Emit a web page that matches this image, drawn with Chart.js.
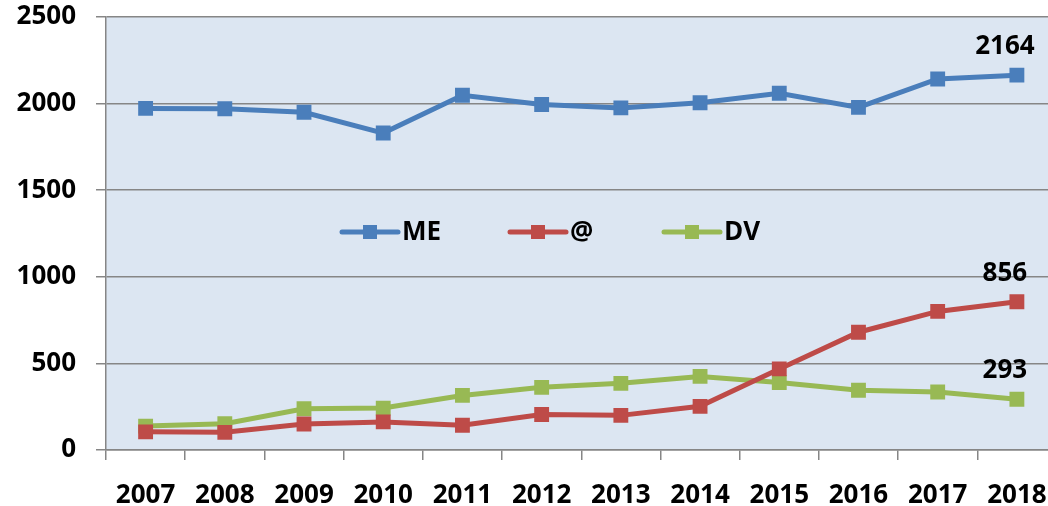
<!DOCTYPE html>
<html>
<head>
<meta charset="utf-8">
<script src="https://cdn.jsdelivr.net/npm/chart.js@4/dist/chart.umd.min.js"></script>
<style>
  html, body { margin: 0; padding: 0; background: #fff; overflow: hidden; }
  #wrap { width: 1067px; height: 506px; position: relative; }
</style>
</head>
<body>
<div id="wrap"><canvas id="trendChart"></canvas></div>
<script>
const years = ['2007', '2008', '2009', '2010', '2011', '2012', '2013', '2014', '2015', '2016', '2017', '2018'];
const meValues = [1972, 1970, 1950, 1830, 2048, 1995, 1975, 2005, 2060, 1978, 2142, 2164];
const atValues = [105, 102, 150, 162, 143, 205, 200, 252, 468, 680, 800, 856];
const dvValues = [138, 152, 238, 242, 315, 362, 385, 425, 390, 345, 335, 293];
const seriesNames = ['ME', '@', 'DV'];
const seriesColors = ['#4a7ebb', '#be4b48', '#98b954'];
const yTicks = [0, 500, 1000, 1500, 2000, 2500];

const fontFamily = "'Open Sans', Lato, sans-serif";

// light blue plot background
const plotBackground = {
  id: 'plotBackground',
  beforeDraw(chart) {
    const { ctx, chartArea: a } = chart;
    ctx.save();
    ctx.fillStyle = '#dce6f2';
    ctx.fillRect(a.left, a.top, a.right - a.left, a.bottom - a.top);
    ctx.restore();
  }
};

// legend inside the plot + labels on the last points
const extras = {
  id: 'extras',
  afterDatasetsDraw(chart) {
    const { ctx, chartArea: a } = chart;
    ctx.save();
    const legendY = 232;
    const starts = [a.left + 236, a.left + 404, a.left + 558];
    ctx.font = 'bold 26px ' + fontFamily;
    ctx.textBaseline = 'middle';
    seriesNames.forEach((name, i) => {
      const x0 = starts[i];
      ctx.strokeStyle = seriesColors[i];
      ctx.lineWidth = 5;
      ctx.lineCap = 'round';
      ctx.beginPath();
      ctx.moveTo(x0, legendY);
      ctx.lineTo(x0 + 56, legendY);
      ctx.stroke();
      ctx.fillStyle = seriesColors[i];
      ctx.fillRect(x0 + 21, legendY - 7, 14, 14);
      ctx.fillStyle = '#000';
      ctx.textAlign = 'left';
      ctx.fillText(name, x0 + 60, legendY + 1);
    });
    ctx.font = 'bold 26px ' + fontFamily;
    ctx.textAlign = 'center';
    ctx.textBaseline = 'alphabetic';
    chart.data.datasets.forEach((ds, i) => {
      const meta = chart.getDatasetMeta(i);
      const last = meta.data[meta.data.length - 1];
      const v = ds.data[ds.data.length - 1];
      ctx.fillStyle = '#000';
      ctx.fillText(String(v), last.x - 12, last.y - 21);
    });
    ctx.restore();
  }
};

function makeDataset(label, data, color) {
  return {
    label: label,
    data: data,
    borderColor: color,
    backgroundColor: color,
    borderWidth: 5,
    pointStyle: 'rect',
    pointRadius: 10.5,
    pointHoverRadius: 10.5,
    pointBorderWidth: 0,
    tension: 0
  };
}

const ctx = document.getElementById('trendChart').getContext('2d');
new Chart(ctx, {
  type: 'line',
  data: {
    labels: years,
    datasets: [
      makeDataset(seriesNames[0], meValues, seriesColors[0]),
      makeDataset(seriesNames[1], atValues, seriesColors[1]),
      makeDataset(seriesNames[2], dvValues, seriesColors[2])
    ]
  },
  options: {
    responsive: true,
    maintainAspectRatio: false,
    animation: false,
    layout: { padding: { top: 17, right: 2, left: 0, bottom: 0 } },
    plugins: {
      legend: { display: false },
      tooltip: { enabled: false }
    },
    scales: {
      x: {
        offset: true,
        afterFit: function(scale) {
          scale.height = 56;
          scale.paddingLeft = 0;
          scale.paddingRight = 0;
        },
        grid: {
          offset: true,
          drawOnChartArea: false,
          drawTicks: true,
          tickLength: 10,
          color: '#868686',
          lineWidth: 1.5
        },
        border: { display: true, color: '#868686', width: 1.5 },
        ticks: {
          color: '#000',
          padding: 20,
          maxRotation: 0,
          autoSkip: false,
          font: { family: fontFamily, size: 26, weight: 'bold' }
        }
      },
      y: {
        min: 0,
        max: 2500,
        afterFit: function(scale) {
          scale.width = 106;
          scale.paddingTop = 0;
          scale.paddingBottom = 0;
        },
        afterBuildTicks: function(scale) {
          scale.ticks = yTicks.map(v => ({ value: v }));
        },
        grid: {
          color: '#868686',
          lineWidth: 1.5,
          tickLength: 10
        },
        border: { display: true, color: '#868686', width: 1.5 },
        ticks: {
          color: '#000',
          padding: 20,
          callback: function(value) { return String(value); },
          font: { family: fontFamily, size: 26, weight: 'bold' }
        }
      }
    }
  },
  plugins: [plotBackground, extras]
});
</script>
</body>
</html>
